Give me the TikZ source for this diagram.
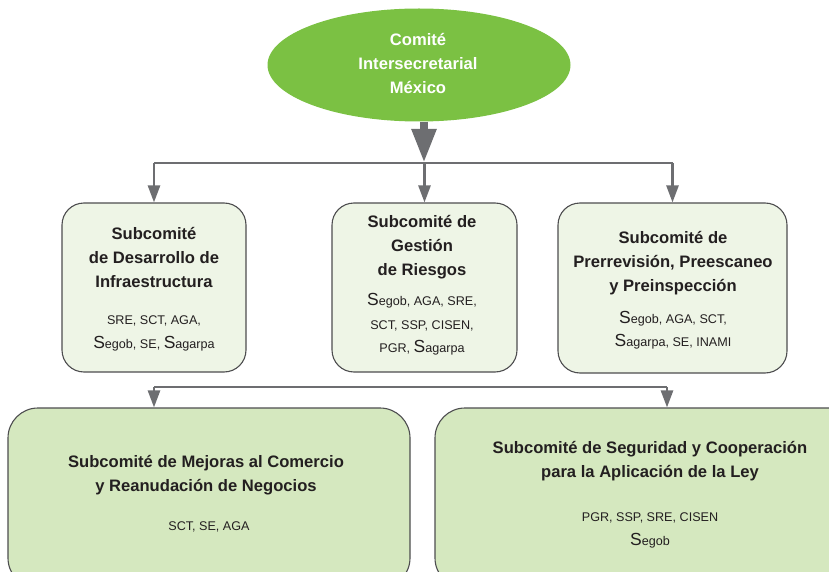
\documentclass[tikz,border=0pt]{standalone}
\usepackage{fontspec}
\setmainfont{Liberation Sans}
\usetikzlibrary{shapes.geometric,arrows.meta}
\definecolor{elgreen}{HTML}{7BC143}
\definecolor{boxlight}{HTML}{EEF5E6}
\definecolor{boxmid}{HTML}{D5E8BF}
\definecolor{edge}{HTML}{4D4D4F}
\definecolor{conn}{HTML}{6D6E71}
\definecolor{ink}{HTML}{231F20}
\newcommand\BigS{{\fontsize{17.5}{17.5}\selectfont S}}
\tikzset{
  x=1pt,y=-1pt,
  topbox/.style={draw=edge,line width=1.1pt,fill=boxlight,rounded corners=22pt,inner sep=0pt},
  lowbox/.style={draw=edge,line width=1.1pt,fill=boxmid,rounded corners=30pt,inner sep=0pt},
  ttl/.style={align=center,text=ink,font=\fontsize{16.6}{24}\selectfont\bfseries,inner sep=0pt},
  mem/.style={align=center,text=ink,font=\fontsize{12.6}{23.5}\selectfont,inner sep=0pt},
  cline/.style={draw=conn,line width=2.6pt},
  carrow/.style={draw=conn,line width=2.6pt,-{Triangle[width=12pt,length=17pt]}},
  bigarrow/.style={draw=conn,line width=8pt,-{Triangle[width=23pt,length=34pt]}},
}
\begin{document}
\begin{tikzpicture}
\useasboundingbox (0,0) rectangle (829,572);
\begin{scope}
\clip (0,0) rectangle (829,572);
% top ellipse
\node[ellipse,fill=elgreen,minimum width=303pt,minimum height=113pt,inner sep=0pt] (top) at (419,65) {};
\node[ttl,text=white] (toptxt) at (418,63) {Comité\\Intersecretarial\\México};
% row 1 boxes
\node[topbox,minimum width=184pt,minimum height=169pt] (b1) at (154,287.5) {};
\node[topbox,minimum width=185pt,minimum height=169pt] (b2) at (424.5,287.5) {};
\node[topbox,minimum width=229pt,minimum height=170pt] (b3) at (672.5,288) {};
% row 2 boxes
\node[lowbox,minimum width=402pt,minimum height=180pt] (b4) at (209,498) {};
\node[lowbox,minimum width=430pt,minimum height=180pt] (b5) at (650,498) {};
\end{scope}
% texts
\node[ttl] (t1) at (154,257.5) {Subcomité\\de Desarrollo de\\Infraestructura};
\node[mem] (m1) at (154,333.5) {SRE, SCT, AGA,\\\BigS egob, SE, \BigS agarpa};
\node[ttl] (t2) at (422,247) {Subcomité de\\Gestión\\de Riesgos};
\node[mem] (m2) at (422,324.5) {\BigS egob, AGA, SRE,\\SCT, SSP, CISEN,\\PGR, \BigS agarpa};
\node[ttl] (t3) at (673,263) {Subcomité de\\Prerrevisión, Preescaneo\\y Preinspección};
\node[mem] (m3) at (673,330) {\BigS egob, AGA, SCT,\\\BigS agarpa, SE, INAMI};
\node[ttl] (t4) at (206,475) {Subcomité de Mejoras al Comercio\\y Reanudación de Negocios};
\node[mem] (m4) at (209,526.5) {SCT, SE, AGA};
\node[ttl] (t5) at (650,461) {Subcomité de Seguridad y Cooperación\\para la Aplicación de la Ley};
\node[mem] (m5) at (650,530.5) {PGR, SSP, SRE, CISEN\\\BigS egob};
% connectors
\coordinate (hub) at (424,163);
\draw[bigarrow] (hub |- top.south) -- (hub);
\draw[cline] (b1.north |- hub) -- (b3.north |- hub);
\draw[carrow] (b1.north |- hub) -- (b1.north);
\draw[carrow] (b2.north |- hub) -- (b2.north);
\draw[carrow] (b3.north |- hub) -- (b3.north);
\coordinate (la) at (154,387);
\coordinate (lb) at (667,387);
\draw[cline] (la) -- (lb);
\draw[carrow] (la) -- (la |- b4.north);
\draw[carrow] (lb) -- (lb |- b5.north);
\end{tikzpicture}
\end{document}
